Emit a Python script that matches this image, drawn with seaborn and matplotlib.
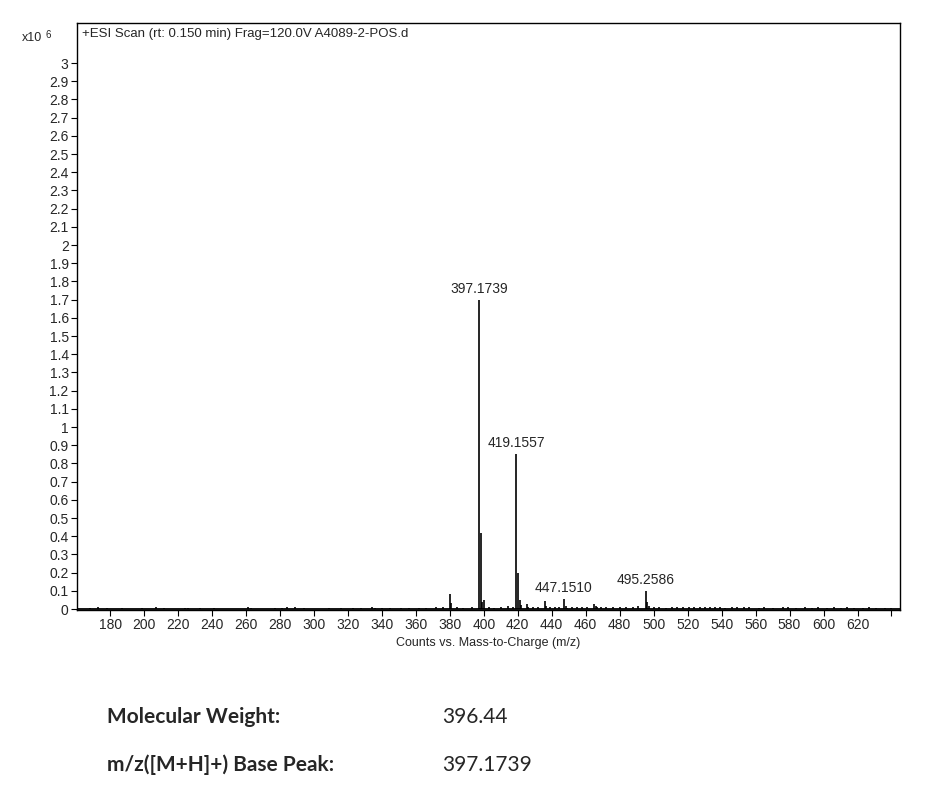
import matplotlib
matplotlib.use("Agg")
import matplotlib.pyplot as plt
import seaborn as sns
import numpy as np
import pandas as pd

# main labelled peaks (m/z, intensity x10^6)
label_mz = [397.1739, 419.1557, 447.1510, 495.2586]
label_int = [1.70, 0.85, 0.055, 0.10]

# other visible peaks
minor_mz = [380.0, 380.6, 398.18, 399.2, 400.2, 420.16, 421.16, 421.9, 425.6, 426.3,
            435.8, 436.6, 448.2, 449.0, 464.9, 465.8, 466.6, 496.3, 497.2]
minor_int = [0.085, 0.035, 0.42, 0.04, 0.05, 0.20, 0.05, 0.02, 0.03, 0.012,
             0.045, 0.015, 0.018, 0.008, 0.03, 0.018, 0.01, 0.04, 0.015]

# baseline noise
noise_mz = [168, 173, 178, 187, 195, 199, 207, 212, 224, 226, 233, 241, 250, 261, 263,
            270, 277, 281, 284, 289, 294, 302, 309, 316, 323, 328, 334, 336, 340, 345,
            351, 356, 362, 366, 372, 376, 384, 388, 393, 403, 406, 410, 414, 417, 429,
            432, 439, 442, 444, 452, 455, 458, 461, 469, 472, 476, 480, 484, 488, 491,
            500, 503, 507, 511, 514, 517, 521, 524, 527, 530, 533, 536, 539, 542, 546,
            549, 553, 556, 562, 565, 570, 576, 579, 584, 589, 593, 597, 602, 606, 610,
            614, 618, 623, 627, 631, 636, 640]
noise_int = [0.005, 0.012, 0.004, 0.006, 0.003, 0.005, 0.011, 0.004, 0.008, 0.006, 0.004,
             0.005, 0.003, 0.010, 0.004, 0.003, 0.006, 0.007, 0.009, 0.012, 0.004, 0.003,
             0.005, 0.004, 0.006, 0.005, 0.010, 0.008, 0.006, 0.004, 0.007, 0.005, 0.008,
             0.006, 0.009, 0.012, 0.010, 0.008, 0.014, 0.012, 0.008, 0.010, 0.015, 0.012,
             0.013, 0.010, 0.012, 0.014, 0.011, 0.010, 0.012, 0.009, 0.013, 0.011, 0.014,
             0.010, 0.012, 0.009, 0.013, 0.015, 0.012, 0.010, 0.008, 0.011, 0.009, 0.012,
             0.010, 0.013, 0.011, 0.014, 0.009, 0.011, 0.010, 0.008, 0.012, 0.009, 0.011,
             0.013, 0.008, 0.010, 0.007, 0.012, 0.009, 0.008, 0.010, 0.007, 0.011, 0.008,
             0.009, 0.006, 0.010, 0.008, 0.007, 0.009, 0.006, 0.008, 0.007]

x_ticks = list(range(180, 641, 20))
y_ticks = [round(v * 0.1, 1) for v in range(0, 31)]

info_labels = ["Molecular Weight:", "m/z([M+H]+) Base Peak:"]
info_values = ["396.44", "397.1739"]

peaks = pd.DataFrame({
    "mz": label_mz + minor_mz + noise_mz,
    "intensity": label_int + minor_int + noise_int,
})

sns.set_style("ticks")
plt.rcParams["font.family"] = ["Liberation Sans", "DejaVu Sans"]

fig = plt.figure(figsize=(9.41, 8.07), dpi=100)
ax = fig.add_axes([0.0818, 0.2441, 0.8746, 0.7274])

ax.vlines(peaks["mz"], 0, peaks["intensity"], color="black", linewidth=1.2)
ax.axhline(0, color="black", linewidth=1.3)

for mz, val in zip(label_mz, label_int):
    ax.annotate(f"{mz:.4f}", (mz, val), xytext=(0, 3), textcoords="offset points",
                ha="center", va="bottom", fontsize=10)

ax.set_xlim(160.5, 645)
ax.set_ylim(-0.005, 3.22)
ax.set_xticks(x_ticks)
ax.set_xticklabels([str(t) if t <= 620 else "" for t in x_ticks])
ax.set_yticks(y_ticks)
ax.set_yticklabels([f"{t:g}" for t in y_ticks])
ax.tick_params(axis="both", labelsize=10, length=4, width=0.8, color="black", pad=2)
for s in ax.spines.values():
    s.set_visible(True)
    s.set_color("black")
    s.set_linewidth(1.0)

ax.set_xlabel("Counts vs. Mass-to-Charge (m/z)", fontsize=9, labelpad=3)
ax.set_ylabel("")
ax.text(0.006, 0.982, "+ESI Scan (rt: 0.150 min) Frag=120.0V A4089-2-POS.d",
        transform=ax.transAxes, ha="left", va="center", fontsize=9.5)
fig.text(22 / 941, 1 - 38 / 807, "x10", ha="left", va="center", fontsize=9)
fig.text(46 / 941, 1 - 35 / 807, "6", ha="left", va="center", fontsize=7)

for i, (lab, val) in enumerate(zip(info_labels, info_values)):
    y = 1 - (717 + 48 * i) / 807
    fig.text(107 / 941, y, lab, ha="left", va="center", fontsize=15,
             fontweight="bold", family=["Lato", "DejaVu Sans"])
    fig.text(442 / 941, y, val, ha="left", va="center", fontsize=15,
             family=["Lato", "DejaVu Sans"])

fig.savefig("out.png", dpi=100)
